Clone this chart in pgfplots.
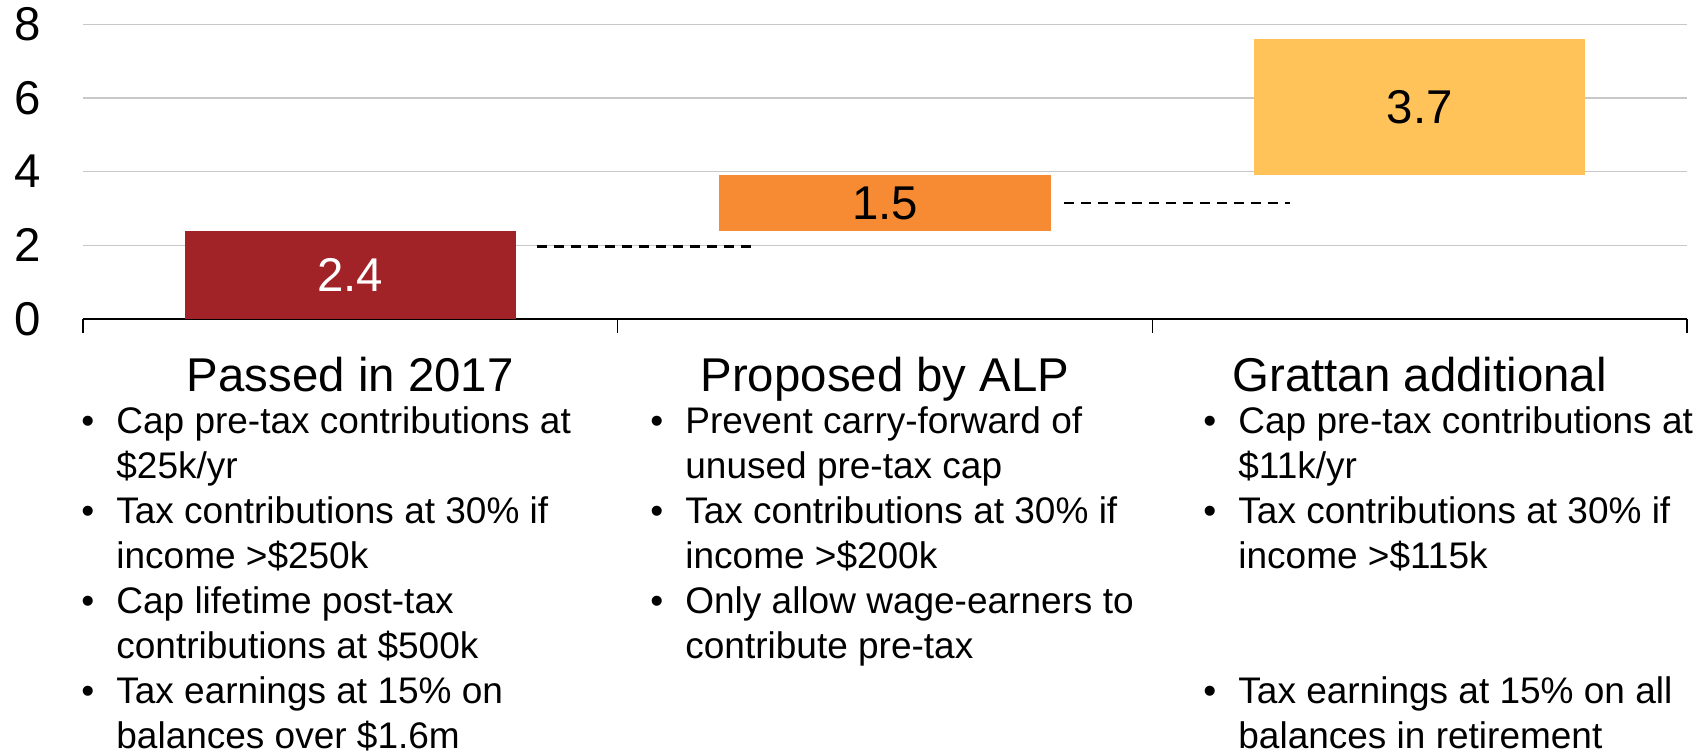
\documentclass[border=0pt]{standalone}
\usepackage{pgfplots}
\pgfplotsset{compat=1.18}
\usepackage{fontspec}
\setmainfont{Liberation Sans}

\definecolor{gred}{RGB}{161,34,39}
\definecolor{gorange}{RGB}{246,139,51}
\definecolor{gyellow}{RGB}{255,195,90}
\definecolor{gridgray}{RGB}{200,200,200}

\newcommand\bigfont{\fontsize{23.7}{28}\selectfont}
\newcommand\listfont{\fontsize{18.5}{22.5}\selectfont}
\newcommand\bi{\llap{\textbullet\hspace{11pt}}}

\begin{document}
\begin{tikzpicture}
\useasboundingbox (-41.5pt,-217pt) rectangle (812pt,159.5pt);

% bars: invisible base + one coloured segment per category
\begin{axis}[
    at={(0,0)}, anchor=south west,
    width=802pt, height=147.35pt, scale only axis,
    xmin=-0.5, xmax=2.5, ymin=0, ymax=8,
    ybar stacked, bar width=0.62,
    axis x line*=bottom, axis y line*=left,
    x axis line style={-, line width=1pt},
    y axis line style={draw=none},
    xtick={-0.5,0.5,1.5,2.5}, xticklabels={},
    ytick={0,2,4,6,8},
    tick align=outside, major tick length=7pt,
    xtick style={black, line width=0.7pt},
    ytick style={draw=none},
    ymajorgrids, major grid style={gridgray, line width=0.75pt},
    /pgf/number format/assume math mode=true,
    yticklabel style={anchor=east, inner sep=0pt, xshift=-14pt, font=\bigfont},
    clip=false
]
\addplot[fill=none, draw=none] coordinates {(0,0) (1,2.4) (2,3.9)};
\addplot[fill=gred, draw=none] coordinates {(0,2.4) (1,0) (2,0)};
\addplot[fill=gorange, draw=none] coordinates {(0,0) (1,1.5) (2,0)};
\addplot[fill=gyellow, draw=none] coordinates {(0,0) (1,0) (2,3.7)};
\end{axis}

% connectors, values and text
\begin{axis}[
    at={(0,0)}, anchor=south west,
    width=802pt, height=147.35pt, scale only axis,
    xmin=-0.5, xmax=2.5, ymin=0, ymax=8,
    hide axis, clip=false
]
\addplot[black, line width=1.3pt, dash pattern=on 5pt off 3.5pt] coordinates {(0.349,1.97) (0.754,1.97)};
\addplot[black, line width=1.3pt, dash pattern=on 5pt off 3.5pt] coordinates {(1.334,3.15) (1.758,3.15)};

\node[font=\bigfont, text=white] at (axis cs:0,1.2) {2.4};
\node[font=\bigfont] at (axis cs:1,3.15) {1.5};
\node[font=\bigfont] at (axis cs:2,5.75) {3.7};

\node[font=\bigfont, anchor=base, yshift=-36pt] at (axis cs:0,0) {Passed in 2017};
\node[font=\bigfont, anchor=base, yshift=-36pt] at (axis cs:1,0) {Proposed by ALP};
\node[font=\bigfont, anchor=base, yshift=-36pt] at (axis cs:2,0) {Grattan additional};

\node[anchor=base west, inner sep=0pt, xshift=16.5pt, yshift=-57pt] at (rel axis cs:0,0) {\listfont
\begin{tabular}[t]{@{}l@{}}
\bi Cap pre-tax contributions at\\
\$25k/yr\\
\bi Tax contributions at 30\% if\\
income >\$250k\\
\bi Cap lifetime post-tax\\
contributions at \$500k\\
\bi Tax earnings at 15\% on\\
balances over \$1.6m
\end{tabular}};

\node[anchor=base west, inner sep=0pt, xshift=301pt, yshift=-57pt] at (rel axis cs:0,0) {\listfont
\begin{tabular}[t]{@{}l@{}}
\bi Prevent carry-forward of\\
unused pre-tax cap\\
\bi Tax contributions at 30\% if\\
income >\$200k\\
\bi Only allow wage-earners to\\
contribute pre-tax
\end{tabular}};

\node[anchor=base west, inner sep=0pt, xshift=577.5pt, yshift=-57pt] at (rel axis cs:0,0) {\listfont
\begin{tabular}[t]{@{}l@{}}
\bi Cap pre-tax contributions at\\
\$11k/yr\\
\bi Tax contributions at 30\% if\\
income >\$115k\\
~\\
~\\
\bi Tax earnings at 15\% on all\\
balances in retirement
\end{tabular}};
\end{axis}
\end{tikzpicture}
\end{document}
